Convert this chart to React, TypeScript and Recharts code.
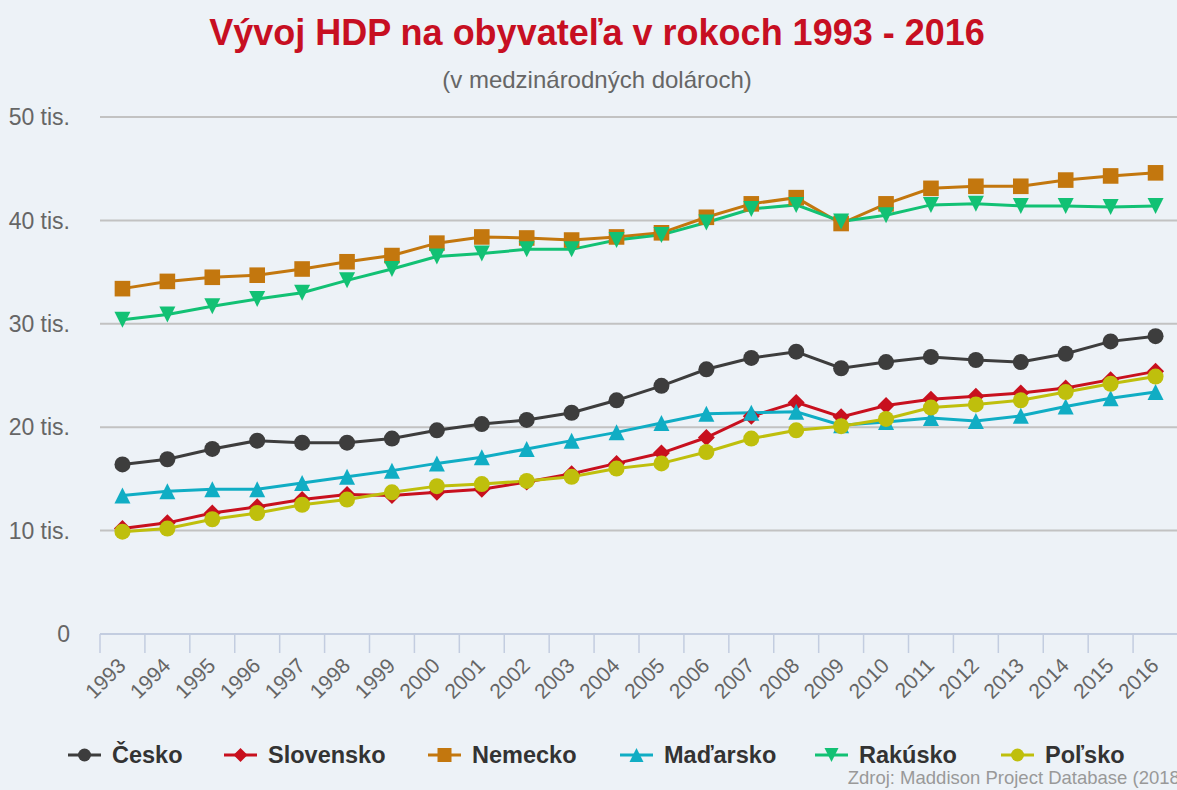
import React from 'react';
import { LineChart, Line, XAxis, YAxis, CartesianGrid } from 'recharts';

const years = [
  '1993', '1994', '1995', '1996', '1997', '1998', '1999', '2000', '2001', '2002', '2003', '2004',
  '2005', '2006', '2007', '2008', '2009', '2010', '2011', '2012', '2013', '2014', '2015', '2016',
];

// HDP na obyvateľa (v medzinárodných dolároch), odčítané z grafu
const cesko = [16400, 16900, 17900, 18700, 18500, 18500, 18900, 19700, 20300, 20700, 21400, 22600, 24000, 25600, 26700, 27300, 25700, 26300, 26800, 26500, 26300, 27100, 28300, 28800];
const slovensko = [10200, 10750, 11700, 12300, 13000, 13500, 13400, 13700, 14000, 14700, 15500, 16500, 17500, 19000, 21050, 22400, 21000, 22100, 22700, 23000, 23300, 23800, 24600, 25400];
const nemecko = [33400, 34100, 34500, 34700, 35300, 36000, 36600, 37800, 38400, 38300, 38100, 38400, 38800, 40300, 41600, 42200, 39700, 41600, 43100, 43300, 43300, 43900, 44300, 44600];
const madarsko = [13400, 13800, 14000, 14000, 14600, 15200, 15800, 16500, 17100, 17900, 18700, 19500, 20400, 21300, 21400, 21500, 20200, 20500, 20900, 20600, 21100, 22000, 22800, 23400];
const rakusko = [30400, 30900, 31700, 32400, 33000, 34200, 35300, 36500, 36800, 37200, 37200, 38100, 38600, 39800, 41100, 41500, 39900, 40500, 41500, 41600, 41400, 41400, 41300, 41400];
const polsko = [9900, 10200, 11100, 11700, 12500, 13000, 13700, 14300, 14500, 14800, 15200, 16000, 16500, 17600, 18900, 19700, 20100, 20800, 21900, 22200, 22600, 23400, 24200, 24900];

const yTicks = [0, 10000, 20000, 30000, 40000, 50000];

const FONT = '"Liberation Sans", Arial, Helvetica, sans-serif';
const BG = '#edf2f7';

type Shape = 'circle' | 'diamond' | 'square' | 'triangle' | 'triangle-down';

const series: { key: string; name: string; color: string; shape: Shape; values: number[] }[] = [
  { key: 'cesko', name: 'Česko', color: '#3d3d3d', shape: 'circle', values: cesko },
  { key: 'slovensko', name: 'Slovensko', color: '#c8101e', shape: 'diamond', values: slovensko },
  { key: 'nemecko', name: 'Nemecko', color: '#c3770e', shape: 'square', values: nemecko },
  { key: 'madarsko', name: 'Maďarsko', color: '#10adc4', shape: 'triangle', values: madarsko },
  { key: 'rakusko', name: 'Rakúsko', color: '#12c174', shape: 'triangle-down', values: rakusko },
  { key: 'polsko', name: 'Poľsko', color: '#bfbf0c', shape: 'circle', values: polsko },
];

const data = years.map((year, i) => {
  const row: any = { year };
  series.forEach(s => { row[s.key] = s.values[i]; });
  return row;
});

const Marker = ({ cx, cy, shape, color, r }: { cx: number; cy: number; shape: Shape; color: string; r: number }) => {
  if (cx == null || cy == null) return null;
  switch (shape) {
    case 'circle':
      return <circle cx={cx} cy={cy} r={r} fill={color} />;
    case 'square':
      return <rect x={cx - r} y={cy - r} width={r * 2} height={r * 2} fill={color} />;
    case 'diamond':
      return <path d={`M${cx},${cy - r}L${cx + r},${cy}L${cx},${cy + r}L${cx - r},${cy}Z`} fill={color} />;
    case 'triangle':
      return <path d={`M${cx},${cy - r}L${cx + r},${cy + r}L${cx - r},${cy + r}Z`} fill={color} />;
    case 'triangle-down':
      return <path d={`M${cx - r},${cy - r}L${cx + r},${cy - r}L${cx},${cy + r}Z`} fill={color} />;
  }
  return null;
};

const dotSize: Record<Shape, number> = { circle: 8, square: 7.8, diamond: 8.5, triangle: 8, 'triangle-down': 8 };

const makeDot = (shape: Shape, color: string) => (p: any) => (
  <Marker key={`${shape}-${color}-${p.index}`} cx={p.cx} cy={p.cy} shape={shape} color={color} r={dotSize[shape]} />
);

const CHART_W = 1200;
const PLOT_LEFT = 100;
const MARGIN_RIGHT = 22;
const HALF_BAND = (CHART_W - PLOT_LEFT - MARGIN_RIGHT) / years.length / 2;
const AXIS_COLOR = '#c3cde0';

const XTick = (props: any) => {
  const { x, y, payload, index } = props;
  const ax = x + 4.5;
  const ay = y + 33;
  return (
    <g>
      <line x1={x - HALF_BAND} y1={y} x2={x - HALF_BAND} y2={y + 19} stroke={AXIS_COLOR} strokeWidth={1.5} />
      {index === years.length - 1 && (
        <line x1={x + HALF_BAND} y1={y} x2={x + HALF_BAND} y2={y + 19} stroke={AXIS_COLOR} strokeWidth={1.5} />
      )}
      <text x={ax} y={ay} textAnchor="end" transform={`rotate(-45 ${ax} ${ay})`} fontSize={21} fill="#666" fontFamily={FONT}>
        {payload.value}
      </text>
    </g>
  );
};

const legendX = [68, 224, 428, 620, 815, 1001];

export default function App() {
  return (
    <div style={{ position: 'fixed', left: 0, top: 0, width: 1177, height: 790, overflow: 'hidden', background: BG, fontFamily: FONT }}>
      <div style={{ position: 'absolute', left: 0, top: 12, width: 1194, textAlign: 'center', fontSize: 36, fontWeight: 700, color: '#c70f22', lineHeight: '42px', whiteSpace: 'nowrap' }}>
        Vývoj HDP na obyvateľa v rokoch 1993 - 2016
      </div>
      <div style={{ position: 'absolute', left: 0, top: 65, width: 1194, textAlign: 'center', fontSize: 24, color: '#666', lineHeight: '30px', whiteSpace: 'nowrap' }}>
        (v medzinárodných dolároch)
      </div>

      <div style={{ position: 'absolute', left: 0, top: 0 }}>
        <LineChart width={CHART_W} height={790} data={data} margin={{ top: 117, right: MARGIN_RIGHT, left: 0, bottom: 56 }}>
          <CartesianGrid vertical={false} stroke="#c2c2c2" strokeWidth={2} />
          <XAxis
            dataKey="year"
            interval={0}
            height={100}
            padding={{ left: HALF_BAND, right: HALF_BAND }}
            tickSize={0}
            tickMargin={0}
            tickLine={false}
            axisLine={{ stroke: AXIS_COLOR, strokeWidth: 2 }}
            tick={<XTick />}
          />
          <YAxis
            width={PLOT_LEFT}
            domain={[0, 50000]}
            ticks={yTicks}
            axisLine={false}
            tickLine={false}
            tickSize={0}
            tickMargin={30}
            tick={{ fill: '#666', fontSize: 23, fontFamily: FONT }}
            tickFormatter={(v: number) => (v === 0 ? '0' : `${v / 1000} tis.`)}
          />
          {series.map(s => (
            <Line
              key={s.key}
              type="linear"
              dataKey={s.key}
              name={s.name}
              stroke={s.color}
              strokeWidth={3}
              dot={makeDot(s.shape, s.color)}
              activeDot={false}
              isAnimationActive={false}
            />
          ))}
        </LineChart>
      </div>

      {series.map((s, i) => (
        <div key={s.key} style={{ position: 'absolute', left: legendX[i], top: 740, height: 30, display: 'flex', alignItems: 'center', whiteSpace: 'nowrap' }}>
          <svg width={34} height={30} style={{ display: 'block' }}>
            <line x1={0} y1={15} x2={33} y2={15} stroke={s.color} strokeWidth={3} />
            <Marker cx={16.5} cy={15} shape={s.shape} color={s.color} r={s.shape === 'circle' ? 6.5 : 7} />
          </svg>
          <span style={{ marginLeft: 10, fontSize: 23.5, fontWeight: 700, color: '#333', lineHeight: '30px' }}>{s.name}</span>
        </div>
      ))}

      <div style={{ position: 'absolute', left: 0, top: 767, width: 1186, textAlign: 'right', fontSize: 18.5, color: '#999', lineHeight: '22px', whiteSpace: 'nowrap' }}>
        Zdroj: Maddison Project Database (2018)
      </div>
    </div>
  );
}
